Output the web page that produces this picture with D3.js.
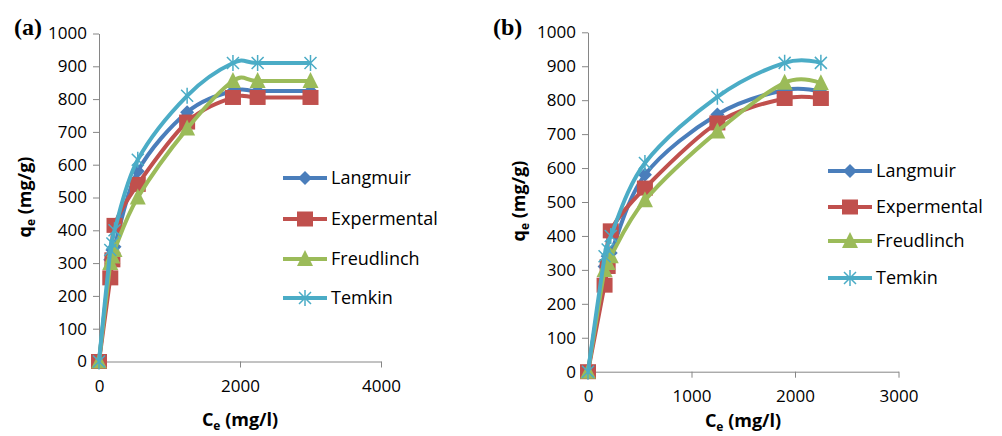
<!DOCTYPE html>
<html>
<head>
<meta charset="utf-8">
<script src="https://cdn.jsdelivr.net/npm/d3@7"></script>
<style>
  body { margin: 0; background: #fff; }
  svg { display: block; }
</style>
</head>
<body>
<div id="chart"></div>
<script>
// Ce values (mg/l) for each panel
const ceA = [0, 160, 190, 220, 550, 1250, 1900, 2250, 3000];
const ceB = [0, 160, 190, 220, 550, 1250, 1900, 2250];

// qe values (mg/g), panel (a)
const langmuirA = [0, 310, 340, 350, 580, 760, 825, 825, 825];
const expA      = [0, 255, 310, 415, 540, 730, 805, 805, 805];
const freudA    = [0, 300, 320, 340, 500, 710, 855, 855, 855];
const temkinA   = [0, 340, 360, 400, 615, 810, 910, 910, 910];

// qe values (mg/g), panel (b)
const langmuirB = [0, 310, 340, 350, 580, 758, 830, 825];
const expB      = [0, 255, 310, 415, 541, 733, 805, 805];
const freudB    = [0, 300, 320, 340, 505, 708, 851, 850];
const temkinB   = [0, 340, 360, 400, 615, 810, 910, 910];

const seriesNames = ["Langmuir", "Expermental", "Freudlinch", "Temkin"];
const colors = ["#4a7ebb", "#c0504d", "#9bbb59", "#4bacc6"];
const markers = ["diamond", "square", "triangle", "asterisk"];

const svg = d3.select("#chart").append("svg")
    .attr("width", 1002)
    .attr("height", 436)

const axisColor = "#868686";

function drawMarker(g, type, x, y, color) {
    if (type == "diamond") {
        g.append("path").attr("d", `M${x},${y-7}L${x+7},${y}L${x},${y+7}L${x-7},${y}Z`).attr("fill", color)
    } else if (type == "square") {
        g.append("rect").attr("x", x-8).attr("y", y-7.5).attr("width", 16).attr("height", 15).attr("fill", color)
    } else if (type == "triangle") {
        g.append("path").attr("d", `M${x},${y-9}L${x+8},${y+7}L${x-8},${y+7}Z`).attr("fill", color)
    } else {
        g.append("path")
            .attr("d", `M${x},${y-8}V${y+8}M${x-6},${y-6}L${x+6},${y+6}M${x-6},${y+6}L${x+6},${y-6}`)
            .attr("stroke", color).attr("stroke-width", 1.5).attr("fill", "none")
    }
}

function drawPanel(cfg) {
    const x = d3.scaleLinear().domain([0, cfg.xMax]).range(cfg.xRange)
    const y = d3.scaleLinear().domain([0, 1000]).range(cfg.yRange)
    const g = svg.append("g")

    // axes
    const xAxis = g.append("g")
        .attr("transform", `translate(0,${cfg.yRange[0]})`)
        .call(d3.axisBottom(x).tickValues(cfg.xTicks).tickSize(6).tickPadding(12).tickSizeOuter(0).tickFormat(d3.format("d")))
    const yAxis = g.append("g")
        .attr("transform", `translate(${cfg.xRange[0]},0)`)
        .call(d3.axisLeft(y).tickValues(d3.range(0, 1001, 100)).tickSize(6).tickPadding(6).tickSizeOuter(0).tickFormat(d3.format("d")))
    ;[xAxis, yAxis].forEach(a => {
        a.select(".domain").attr("stroke", axisColor)
        a.selectAll(".tick line").attr("stroke", axisColor)
        a.selectAll(".tick text").attr("fill", "#000")
            .style("font-family", "Open Sans").style("font-size", "17px")
    })

    // series
    const line = d3.line().x(d => x(d[0])).y(d => y(d[1])).curve(d3.curveCardinal.tension(0))
    cfg.series.forEach((vals, i) => {
        const pts = cfg.ce.map((c, j) => [c, vals[j]])
        g.append("path").attr("d", line(pts))
            .attr("fill", "none").attr("stroke", colors[i]).attr("stroke-width", 4)
            .attr("stroke-linejoin", "round")
        pts.forEach(p => drawMarker(g, markers[i], x(p[0]), y(p[1]), colors[i]))
    })

    // legend
    cfg.legendRows.forEach((ly, i) => {
        g.append("line").attr("x1", cfg.legendX).attr("x2", cfg.legendX + 44)
            .attr("y1", ly).attr("y2", ly).attr("stroke", colors[i]).attr("stroke-width", 4)
        drawMarker(g, markers[i], cfg.legendX + 22, ly, colors[i])
        g.append("text").attr("x", cfg.legendX + 48).attr("y", ly).attr("dy", "0.35em")
            .style("font-family", "Open Sans").style("font-size", "18px")
            .text(seriesNames[i])
    })

    // axis titles
    const xt = g.append("text").attr("x", cfg.xTitle[0]).attr("y", cfg.xTitle[1])
        .attr("text-anchor", "middle")
        .style("font-family", "Open Sans").style("font-weight", "bold").style("font-size", "18px")
    xt.append("tspan").text("C")
    xt.append("tspan").attr("dy", 4).style("font-size", "12px").text("e")
    xt.append("tspan").attr("dy", -4).text(" (mg/l)")

    const yt = g.append("text")
        .attr("transform", `translate(${cfg.yTitle[0]},${cfg.yTitle[1]}) rotate(-90)`)
        .attr("text-anchor", "middle")
        .style("font-family", "Open Sans").style("font-weight", "bold").style("font-size", "18px")
    yt.append("tspan").text("q")
    yt.append("tspan").attr("dy", 4).style("font-size", "12px").text("e")
    yt.append("tspan").attr("dy", -4).text(" (mg/g)")

    g.append("text").attr("x", cfg.label[0]).attr("y", cfg.label[1])
        .style("font-family", "Liberation Serif").style("font-weight", "bold").style("font-size", "24px")
        .text(cfg.labelText)
}

drawPanel({
    xMax: 4000, xRange: [99, 381], yRange: [361.5, 33.5], xTicks: [0, 2000, 4000],
    ce: ceA, series: [langmuirA, expA, freudA, temkinA],
    legendX: 283, legendRows: [178, 219, 259, 298],
    xTitle: [240, 426], yTitle: [31, 197], label: [14, 35], labelText: "(a)"
})

drawPanel({
    xMax: 3000, xRange: [588, 898.5], yRange: [371.7, 32.3], xTicks: [0, 1000, 2000, 3000],
    ce: ceB, series: [langmuirB, expB, freudB, temkinB],
    legendX: 828, legendRows: [171, 207, 241, 278],
    xTitle: [743, 427], yTitle: [525, 201], label: [493, 35], labelText: "(b)"
})
</script>
</body>
</html>
